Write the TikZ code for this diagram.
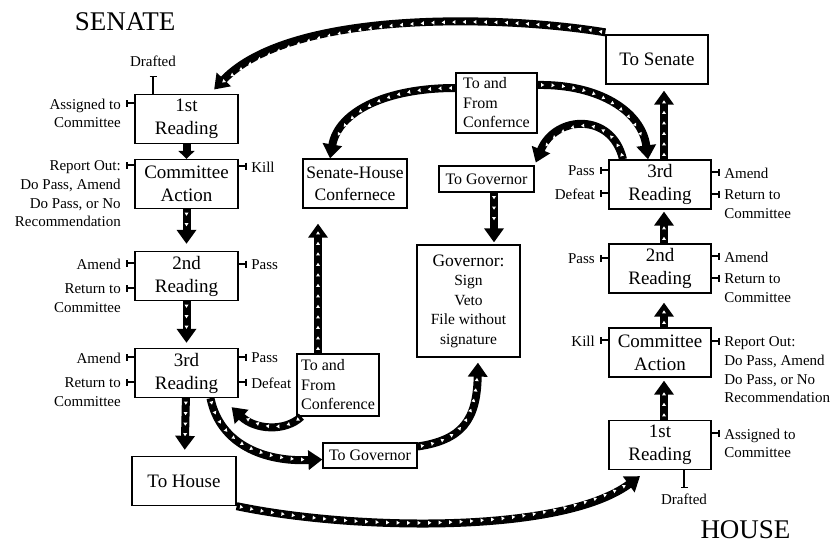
\documentclass[tikz,border=0pt]{standalone}
\usepackage{fontspec}
\setmainfont{Liberation Serif}
\usetikzlibrary{arrows.meta,decorations.markings}

\tikzset{
  stage/.style={draw, line width=1.3pt, minimum width=103pt, minimum height=49pt,
    inner sep=1pt, align=center, font=\fontsize{19}{23}\selectfont},
  smallstage/.style={stage, font=\fontsize{16}{19.5}\selectfont},
  lbl/.style={inner sep=0pt, font=\fontsize{15}{18.8}\selectfont},
  chamber/.style={inner sep=0pt, font=\fontsize{27}{30}\selectfont},
  tick/.style={line width=1.2pt, -{Bar[width=7pt]}},
  flow/.style={line width=8pt, -{Triangle[width=19pt,length=14pt]},
    postaction={decorate},
    decoration={markings, mark=between positions 5pt and -16pt step 10.5pt with
      {\fill[white] (-1.6pt,-2pt) -- (1.6pt,0pt) -- (-1.6pt,2pt) -- cycle;}}}
}

\begin{document}
\begin{tikzpicture}[x=1pt,y=-1pt]
        \useasboundingbox (0,0) rectangle (836,546);
        \node[chamber] (senate) at (125,21.5) {SENATE};
        \node[chamber] (house) at (745.5,530) {HOUSE};
        % senate side
        \node[stage] (s1) at (186.5,119) {1st\\Reading};
        \node[stage] (sca) at (186.5,184) {Committee\\Action};
        \node[stage] (s2) at (186.5,276) {2nd\\Reading};
        \node[stage] (s3) at (186.5,373) {3rd\\Reading};
        \node[stage, minimum width=104pt] (shouse) at (184,481) {To House};
        \node[smallstage, minimum width=94pt, minimum height=25pt] (sgov) at (370,455.5) {To Governor};
        \node[smallstage, minimum width=82pt, minimum height=62pt, align=left] (sconf) at (338,385)
          {To and\\From\\Conference};
        \node[stage, minimum width=104pt, font=\fontsize{17.5}{22}\selectfont] (shc) at (355,183.5)
          {Senate-House\\Confernece};
        % governor
        \node[smallstage, minimum width=81pt, minimum height=60pt, align=left] (hconf) at (496.5,103)
          {To and\\From\\Confernce};
        \node[smallstage, minimum width=95pt, minimum height=26pt] (hgov) at (486.5,179) {To Governor};
        \node[stage, minimum height=112pt, font=\fontsize{15.5}{19.5}\selectfont] (gov) at (468.5,301)
          {{\fontsize{17.5}{19.5}\selectfont Governor:}\\Sign\\Veto\\File without\\signature};
        % house side
        \node[stage, minimum width=102pt] (hsen) at (657,59.5) {To Senate};
        \node[stage, minimum width=102pt] (h3) at (660,184.5) {3rd\\Reading};
        \node[stage, minimum width=102pt] (h2) at (660,268.5) {2nd\\Reading};
        \node[stage, minimum width=102pt] (hca) at (660,352.5) {Committee\\Action};
        \node[stage, minimum width=102pt] (h1) at (660,445) {1st\\Reading};
        % senate ticks
        \draw[tick] (s1.north -| 153,0) -- ++(0,-18)
          node[lbl, anchor=base, yshift=9pt] (sdraft) {Drafted};
        \draw[tick] (s1.west |- 0,103) -- ++(-8,0)
          node[lbl, anchor=north east, align=right, xshift=-5pt, yshift=5pt] (sassign) {Assigned to\\Committee};
        \draw[tick] (sca.west |- 0,165) -- ++(-8,0)
          node[lbl, anchor=north east, align=right, xshift=-5pt, yshift=5pt] (sreport)
          {Report Out:\\Do Pass, Amend\\Do Pass, or No\\Recommendation};
        \draw[tick] (sca.east |- 0,166) -- ++(8,0)
          node[lbl, anchor=north west, xshift=4pt, yshift=5pt] (skill) {Kill};
        \draw[tick] (s2.west |- 0,263) -- ++(-8,0)
          node[lbl, anchor=north east, xshift=-5pt, yshift=5pt] (samend2) {Amend};
        \draw[tick] (s2.west |- 0,288) -- ++(-8,0)
          node[lbl, anchor=north east, align=right, xshift=-5pt, yshift=5pt] (sreturn2) {Return to\\Committee};
        \draw[tick] (s2.east |- 0,264) -- ++(8,0)
          node[lbl, anchor=north west, xshift=4pt, yshift=5pt] (spass2) {Pass};
        \draw[tick] (s3.west |- 0,357) -- ++(-8,0)
          node[lbl, anchor=north east, xshift=-5pt, yshift=5pt] (samend3) {Amend};
        \draw[tick] (s3.west |- 0,382) -- ++(-8,0)
          node[lbl, anchor=north east, align=right, xshift=-5pt, yshift=5pt] (sreturn3) {Return to\\Committee};
        \draw[tick] (s3.east |- 0,357) -- ++(8,0)
          node[lbl, anchor=north west, xshift=4pt, yshift=5pt] (spass3) {Pass};
        \draw[tick] (s3.east |- 0,382) -- ++(8,0)
          node[lbl, anchor=north west, xshift=4pt, yshift=5pt] (sdefeat3) {Defeat};
        % house ticks
        \draw[tick] (h3.west |- 0,170) -- ++(-8,0)
          node[lbl, anchor=north east, xshift=-5pt, yshift=5pt] (hpass3) {Pass};
        \draw[tick] (h3.west |- 0,193) -- ++(-8,0)
          node[lbl, anchor=north east, xshift=-5pt, yshift=5pt] (hdefeat3) {Defeat};
        \draw[tick] (h3.east |- 0,172) -- ++(8,0)
          node[lbl, anchor=north west, xshift=4pt, yshift=5pt] (hamend3) {Amend};
        \draw[tick] (h3.east |- 0,194) -- ++(8,0)
          node[lbl, anchor=north west, align=left, xshift=4pt, yshift=5pt] (hreturn3) {Return to\\Committee};
        \draw[tick] (h2.west |- 0,258) -- ++(-8,0)
          node[lbl, anchor=north east, xshift=-5pt, yshift=5pt] (hpass2) {Pass};
        \draw[tick] (h2.east |- 0,256) -- ++(8,0)
          node[lbl, anchor=north west, xshift=4pt, yshift=5pt] (hamend2) {Amend};
        \draw[tick] (h2.east |- 0,278) -- ++(8,0)
          node[lbl, anchor=north west, align=left, xshift=4pt, yshift=5pt] (hreturn2) {Return to\\Committee};
        \draw[tick] (hca.west |- 0,340) -- ++(-8,0)
          node[lbl, anchor=north east, xshift=-5pt, yshift=5pt] (hkill) {Kill};
        \draw[tick] (hca.east |- 0,341) -- ++(8,0)
          node[lbl, anchor=north west, align=left, xshift=4pt, yshift=5pt] (hreport)
          {Report Out:\\Do Pass, Amend\\Do Pass, or No\\Recommendation};
        \draw[tick] (h1.east |- 0,433) -- ++(8,0)
          node[lbl, anchor=north west, align=left, xshift=4pt, yshift=5pt] (hassign) {Assigned to\\Committee};
        \draw[tick] (h1.south -| 684,0) -- ++(0,18)
          node[lbl, anchor=north, yshift=-5pt] (hdraft) {Drafted};
        % flows
        \draw[flow, -{Triangle[width=16pt,length=8pt]}] (s1) -- (sca);
        \draw[flow, shorten >=7pt] (sca) -- (s2);
        \draw[flow, shorten >=5pt] (s2) -- (s3);
        \draw[flow, shorten >=6pt] (s3) -- (shouse);
        \draw[flow] ([xshift=24pt]s3.south) .. controls (220,445) and (265,462) .. ([yshift=-4pt]sgov.west);
        \draw[flow] ([xshift=5pt]sconf.south west) .. controls (285,432) and (255,430)
          .. ([xshift=-7pt,yshift=-9pt]s3.south east);
        \draw[flow, shorten >=15pt] (sconf.north -| 318,0) -- (shc.south -| 318,0);
        \draw[flow] ([yshift=15pt]hconf.west) .. controls (385,88) and (338,112) .. (shc.north -| 330,0);
        \draw[flow] ([yshift=18pt]hconf.east) .. controls (600,84) and (642,112) .. (h3.north -| 648,0);
        \draw[flow, shorten >=3pt] (h3.north -| 623,0) .. controls (612,112) and (555,115) .. (hgov.north east);
        \draw[flow, shorten >=2pt] (hgov.south -| 494,0) -- (gov.north -| 494,0);
        \draw[flow, shorten >=5pt] ([yshift=9pt]sgov.east) .. controls (462,440) and (477,420) .. (gov.south -| 478,0);
        \draw[flow, shorten >=6pt] (h3.north -| 664,0) -- (hsen.south -| 664,0);
        \draw[flow, shorten >=2pt] (h2.north -| 664,0) -- (h3.south -| 664,0);
        \draw[flow, shorten >=9pt] (hca.north -| 664,0) -- (h2.south -| 664,0);
        \draw[flow, shorten >=3pt] (h1.north -| 664,0) -- (hca.south -| 664,0);
        \draw[flow, shorten >=6pt] ([yshift=2pt]hsen.north west) .. controls (500,15) and (290,10) .. (s1.north -| 210,0);
        \draw[flow] (shouse.south east) .. controls (350,530) and (560,535) .. ([xshift=-20pt,yshift=-6pt]h1.south);
      \end{tikzpicture}
\end{document}
